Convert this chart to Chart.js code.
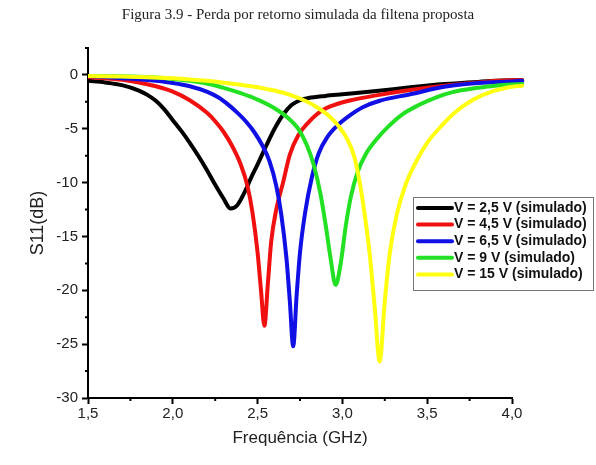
<!DOCTYPE html>
<html>
<head>
<meta charset="utf-8">
<script src="https://cdn.jsdelivr.net/npm/chart.js@4.4.1/dist/chart.umd.min.js"></script>
<style>
  html, body { margin: 0; padding: 0; background: #fff; }
  #wrap { position: relative; width: 596px; height: 465px; }
  #caption { position: absolute; left: 0; top: 6px; width: 596px; text-align: center;
    font: 15px "Liberation Serif", "Times New Roman", serif; color: #222; }
  canvas { position: absolute; left: 0; top: 0; }
</style>
</head>
<body>
<div id="wrap">
  <canvas id="chartS11" width="596" height="465"></canvas>
  <div id="caption">Figura 3.9 - Perda por retorno simulada da filtena proposta</div>
</div>
<script>
const seriesLabels = ['V = 2,5 V (simulado)', 'V = 4,5 V (simulado)', 'V = 6,5 V (simulado)', 'V = 9 V (simulado)', 'V = 15 V (simulado)'];
const seriesColors = ['#000000', '#f01010', '#1010e6', '#22e022', '#ffff10'];

// simulated sweep runs a little past the 4.0 GHz axis end
const freqV25 = [1.5, 1.6, 1.7, 1.8, 1.85, 1.9, 1.95, 2.0, 2.05, 2.1, 2.15, 2.2, 2.25, 2.3, 2.34, 2.38, 2.42, 2.46, 2.5, 2.55, 2.6, 2.65, 2.7, 2.75, 2.8, 2.9, 3.0, 3.2, 3.4, 3.6, 3.8, 4.0, 4.06];
const s11V25 = [-0.55, -0.7, -0.95, -1.45, -1.85, -2.4, -3.2, -4.2, -5.2, -6.3, -7.5, -8.8, -10.2, -11.5, -12.4, -12.1, -11.0, -9.6, -8.3, -6.6, -5.0, -3.7, -2.8, -2.35, -2.15, -1.95, -1.8, -1.5, -1.15, -0.85, -0.65, -0.5, -0.5];

const freqV45 = [1.5, 1.6, 1.7, 1.8, 1.9, 2.0, 2.1, 2.2, 2.25, 2.3, 2.35, 2.4, 2.44, 2.47, 2.5, 2.52, 2.54, 2.56, 2.58, 2.61, 2.65, 2.69, 2.74, 2.8, 2.87, 2.95, 3.05, 3.2, 3.4, 3.6, 3.8, 4.0, 4.06];
const s11V45 = [-0.2, -0.3, -0.45, -0.7, -1.05, -1.55, -2.35, -3.5, -4.3, -5.3, -6.6, -8.3, -10.3, -12.8, -16.5, -20.0, -23.3, -19.5, -15.5, -12.5, -10.0, -7.4, -5.6, -4.4, -3.4, -2.8, -2.35, -1.9, -1.4, -1.0, -0.7, -0.5, -0.5];

const freqV65 = [1.5, 1.6, 1.7, 1.8, 1.9, 2.0, 2.1, 2.2, 2.27, 2.33, 2.38, 2.43, 2.48, 2.53, 2.57, 2.61, 2.64, 2.67, 2.69, 2.71, 2.73, 2.75, 2.78, 2.82, 2.86, 2.91, 2.97, 3.04, 3.12, 3.22, 3.4, 3.6, 3.8, 4.0, 4.06];
const s11V65 = [-0.1, -0.2, -0.3, -0.4, -0.55, -0.75, -1.05, -1.55, -2.1, -2.8, -3.5, -4.3, -5.3, -6.6, -8.0, -10.3, -13.0, -17.0, -21.0, -25.2, -20.5, -16.5, -12.8, -9.5, -7.3, -5.8, -4.7, -3.8, -3.0, -2.4, -1.8, -1.1, -0.75, -0.6, -0.55];

const freqV9 = [1.5, 1.7, 1.9, 2.0, 2.1, 2.2, 2.3, 2.4, 2.5, 2.6, 2.68, 2.74, 2.79, 2.83, 2.87, 2.9, 2.93, 2.96, 2.99, 3.02, 3.05, 3.09, 3.14, 3.2, 3.27, 3.35, 3.45, 3.55, 3.65, 3.8, 3.9, 4.0, 4.06];
const s11V9 = [-0.1, -0.12, -0.25, -0.38, -0.55, -0.8, -1.2, -1.7, -2.3, -3.1, -4.0, -5.0, -6.5, -8.3, -11.0, -13.8, -17.0, -19.5, -17.5, -14.0, -11.3, -9.0, -7.3, -6.0, -4.8, -3.7, -2.8, -2.1, -1.6, -1.2, -1.0, -0.9, -0.85];

const freqV15 = [1.5, 1.7, 1.9, 2.0, 2.1, 2.2, 2.3, 2.4, 2.5, 2.6, 2.7, 2.78, 2.85, 2.92, 2.98, 3.03, 3.07, 3.1, 3.13, 3.16, 3.19, 3.22, 3.25, 3.28, 3.32, 3.37, 3.43, 3.5, 3.58, 3.67, 3.77, 3.88, 4.0, 4.06];
const s11V15 = [-0.1, -0.15, -0.25, -0.32, -0.42, -0.55, -0.72, -0.92, -1.15, -1.45, -1.9, -2.4, -3.0, -3.8, -4.8, -6.0, -7.6, -9.8, -12.8, -16.5, -21.5, -26.6, -21.0, -16.5, -13.0, -10.3, -8.2, -6.3, -4.8, -3.4, -2.3, -1.55, -1.1, -1.0];

const xTicks = [1.5, 2.0, 2.5, 3.0, 3.5, 4.0];
const yTicks = [-30, -25, -20, -15, -10, -5, 0];
const xMinorTicks = [1.75, 2.25, 2.75, 3.25, 3.75];
const yMinorTicks = [-27.5, -22.5, -17.5, -12.5, -7.5, -2.5, 2.5];
const xAxisMax = 4.0;

const FONT = '"Liberation Sans", Arial, sans-serif';

const freqs = [freqV25, freqV45, freqV65, freqV9, freqV15];
const s11s = [s11V25, s11V45, s11V65, s11V9, s11V15];

const datasets = seriesLabels.map((label, i) => ({
  label,
  data: freqs[i].map((f, j) => ({ x: f, y: s11s[i][j] })),
  borderColor: seriesColors[i],
  backgroundColor: seriesColors[i],
  borderWidth: 4,
  pointRadius: 0,
  cubicInterpolationMode: 'monotone',
  borderJoinStyle: 'round',
  borderCapStyle: 'round',
  clip: { left: 0, top: 0, right: 14, bottom: 0 },
  order: seriesLabels.length - i
}));

// minor ticks on both axes
const minorTicks = {
  id: 'minorTicks',
  afterDraw(chart) {
    const { ctx, scales: { x, y } } = chart;
    ctx.save();
    ctx.strokeStyle = '#000';
    ctx.lineWidth = 2;
    ctx.beginPath();
    xMinorTicks.forEach(v => {
      const px = x.getPixelForValue(v);
      ctx.moveTo(px, y.bottom);
      ctx.lineTo(px, y.bottom + 3);
    });
    yMinorTicks.forEach(v => {
      const py = y.getPixelForValue(v);
      ctx.moveTo(x.left, py);
      ctx.lineTo(x.left - 3, py);
    });
    ctx.stroke();
    ctx.restore();
  }
};

// boxed legend inside the plot, like the Origin one
const boxLegend = {
  id: 'boxLegend',
  afterDraw(chart) {
    const ctx = chart.ctx;
    const left = 413, top = 197, w = 180, h = 93, row = 16.6;
    ctx.save();
    ctx.fillStyle = '#fff';
    ctx.fillRect(left, top, w, h);
    ctx.strokeStyle = '#777';
    ctx.lineWidth = 1;
    ctx.strokeRect(left + 0.5, top + 0.5, w, h);
    ctx.font = 'bold 14px ' + FONT;
    ctx.textBaseline = 'middle';
    chart.data.datasets.forEach((ds, i) => {
      const yy = top + 11 + i * row;
      ctx.strokeStyle = ds.borderColor;
      ctx.lineWidth = 4;
      ctx.lineCap = 'round';
      ctx.beginPath();
      ctx.moveTo(left + 5, yy);
      ctx.lineTo(left + 39, yy);
      ctx.stroke();
      ctx.fillStyle = '#111';
      ctx.fillText(ds.label, left + 41, yy);
    });
    ctx.restore();
  }
};

new Chart(document.getElementById('chartS11'), {
  type: 'line',
  data: { datasets },
  options: {
    responsive: false,
    animation: false,
    layout: { padding: { left: 0, right: 84, top: 48, bottom: 0 } },
    plugins: { legend: { display: false }, tooltip: { enabled: false } },
    scales: {
      x: {
        type: 'linear',
        min: 1.5,
        bounds: 'data',
        // axis stops at 4.0 while the last points (4.06) are still drawn
        afterDataLimits: s => { s.max = xAxisMax; },
        afterBuildTicks: s => { s.ticks = xTicks.map(v => ({ value: v })); },
        afterFit: s => { s.height = 67; },
        grid: { drawOnChartArea: false, tickLength: 6, tickWidth: 2, tickColor: '#000' },
        border: { color: '#000', width: 2 },
        ticks: {
          callback: v => v.toFixed(1).replace('.', ','),
          font: { family: FONT, size: 15 },
          color: '#222',
          padding: 1,
          maxRotation: 0
        },
        title: { display: true, text: 'Frequência (GHz)', font: { family: FONT, size: 17 }, color: '#222', padding: { top: 2, bottom: 16 } }
      },
      y: {
        type: 'linear',
        min: -30,
        max: 2.5,
        afterBuildTicks: s => { s.ticks = yTicks.map(v => ({ value: v })); },
        afterFit: s => { s.width = 88; },
        grid: { drawOnChartArea: false, tickLength: 6, tickWidth: 2, tickColor: '#000' },
        border: { color: '#000', width: 2 },
        ticks: {
          callback: v => String(v),
          font: { family: FONT, size: 15 },
          color: '#222',
          padding: 4
        },
        title: { display: true, text: 'S11(dB)', font: { family: FONT, size: 18 }, color: '#222', padding: { top: 27, bottom: 4 } }
      }
    }
  },
  plugins: [minorTicks, boxLegend]
});
</script>
</body>
</html>
